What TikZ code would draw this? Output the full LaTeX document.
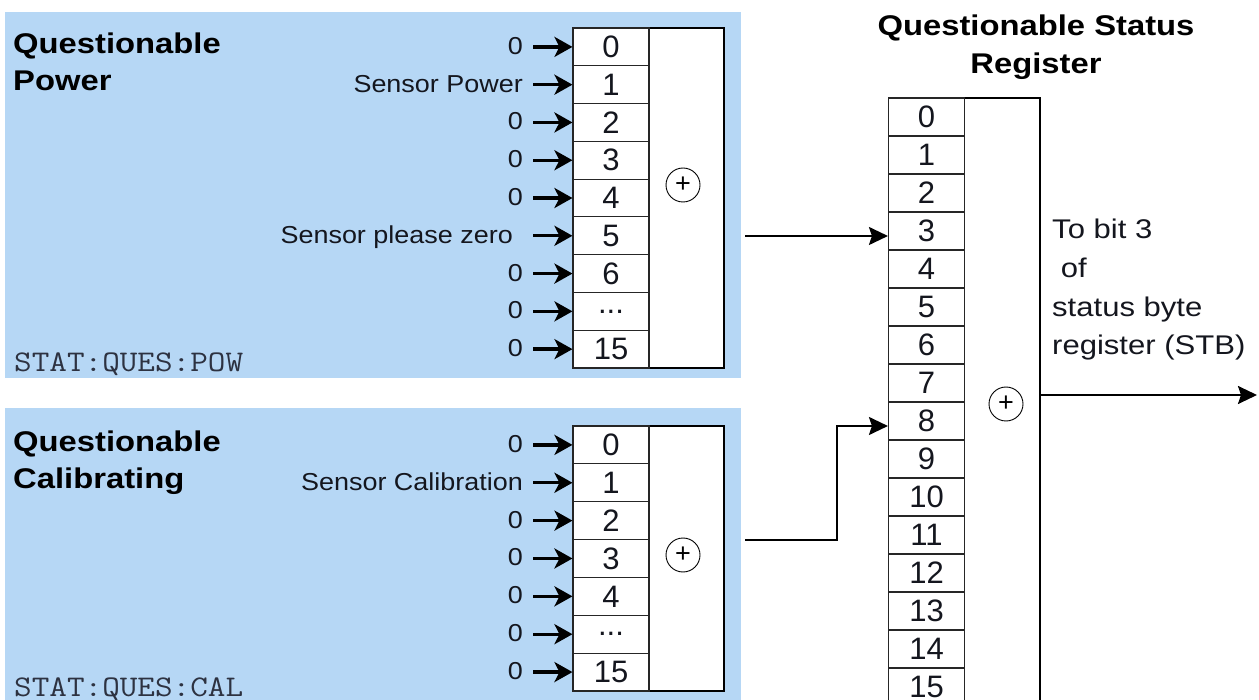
\documentclass[tikz,border=0pt]{standalone}
\usepackage{graphicx}
\usepackage{fontspec}
\setmainfont{Liberation Sans}
\newfontfamily\lblfont[FakeStretch=1.1]{Liberation Sans}
\newfontfamily\ttlfont[FakeStretch=1.15]{Liberation Sans}
\usetikzlibrary{arrows.meta,calc}
\definecolor{panelblue}{RGB}{182,215,245}
\definecolor{monocol}{RGB}{45,50,65}
\definecolor{txt}{RGB}{20,22,30}
\newcommand\tdots{...}
\newcommand\widemono[1]{\scalebox{1.14}[1]{#1}}
\tikzset{
  panel/.style={fill=panelblue},
  cell/.style={draw=black!85, line width=1.1pt, fill=white, minimum width=76pt,
    minimum height=37.8pt, inner sep=0pt, font=\fontsize{31}{31}\selectfont, text=txt},
  mcell/.style={cell, minimum height=38pt},
  orbox/.style={draw=black, line width=2.4pt, fill=white, inner sep=0pt},
  plus/.style={circle, draw=black, line width=0.9pt, minimum size=34pt, inner sep=0pt,
    font=\fontsize{27}{27}\selectfont},
  inlbl/.style={anchor=base east, inner sep=0pt,
    font=\lblfont\fontsize{24.5}{26}\selectfont, text=txt},
  inarr/.style={line width=3.4pt, -{Stealth[length=18pt,width=20pt,inset=5pt]}},
  conn/.style={line width=2.2pt, -{Stealth[length=19pt,width=18pt,inset=3pt]}},
  ttl/.style={inner sep=0pt, font=\ttlfont\bfseries\fontsize{28.5}{30}\selectfont, text=black},
  outtxt/.style={anchor=base west, inner sep=0pt, font=\ttlfont\fontsize{27}{30}\selectfont, text=txt},
  mono/.style={anchor=base west, inner sep=0pt,
    font=\ttfamily\fontsize{30}{30}\selectfont, text=monocol}
}
\begin{document}
\begin{tikzpicture}[x=1pt,y=-1pt]
\useasboundingbox (0,0) rectangle (1259,700);
\fill[panel] (5,12) rectangle (741,378);
\fill[panel] (5,408) rectangle (741,700);

% ---- panel 1 : Questionable Power
\node[ttl, anchor=base west] (pt1) at (13,54) {Questionable};
\node[ttl, anchor=base west] (pt2) at (13,91) {Power};
\node[mono] (pm) at (14,372) {\widemono{STAT:QUES:POW}};
\node[orbox, minimum width=75pt, minimum height=340pt] (pb) at (686.5,198) {};
\node[plus] (pp) at (683,185) {+};
\foreach \t/\l [count=\i from 0] in {0/0,1/Sensor Power,2/0,3/0,4/0,5/Sensor please zero\hspace*{10pt},6/0,\tdots/0,15/0}{
  \node[cell] (p\i) at (611,{46.9+37.78*\i}) {\t};
  \node[inlbl] (pl\i) at (523,{46.9+37.78*\i+7.5}) {\l};
  \draw[inarr] ([xshift=10pt]pl\i.east |- p\i.west) -- (p\i.west);
}

% ---- panel 2 : Questionable Calibrating
\node[ttl, anchor=base west] (ct1) at (13,452) {Questionable};
\node[ttl, anchor=base west] (ct2) at (13,489) {Calibrating};
\node[mono] (cm) at (14,696) {\widemono{STAT:QUES:CAL}};
\node[orbox, minimum width=75pt, minimum height=265pt] (cb) at (686.5,558.5) {};
\node[plus] (cp) at (683,555) {+};
\foreach \t/\l [count=\i from 0] in {0/0,1/Sensor Calibration,2/0,3/0,4/0,\tdots/0,15/0}{
  \node[cell] (c\i) at (611,{444.9+37.86*\i}) {\t};
  \node[inlbl] (cl\i) at (523,{444.9+37.86*\i+7.5}) {\l};
  \draw[inarr] ([xshift=10pt]cl\i.east |- c\i.west) -- (c\i.west);
}

% ---- main register
\node[ttl, anchor=base] (mt1) at (1036,36) {Questionable Status};
\node[ttl, anchor=base] (mt2) at (1036,74) {Register};
\node[orbox, minimum width=76pt, minimum height=608pt] (mb) at (1002,402) {};
\node[plus] (mp) at (1006,404) {+};
\foreach \i in {0,...,15}{
  \node[mcell] (m\i) at (926.5,{117+38*\i}) {\i};
}
\node[outtxt] (o1t) at (1052,239) {To bit 3};
\node[outtxt] (o2t) at (1052,278) {\ of};
\node[outtxt] (o3t) at (1052,317) {status byte};
\node[outtxt] (o4t) at (1052,355) {register (STB)};

% ---- connectors
\coordinate (po) at (745,236);
\coordinate (co) at (745,540);
\coordinate (stb) at (1257,395);
\draw[conn] (po) -- (po -| m3.west);
\draw[conn] (co) -- (837,540) |- ([yshift=-5pt]m8.west);
\draw[conn] (mb.east |- stb) -- (stb);
\end{tikzpicture}
\end{document}
